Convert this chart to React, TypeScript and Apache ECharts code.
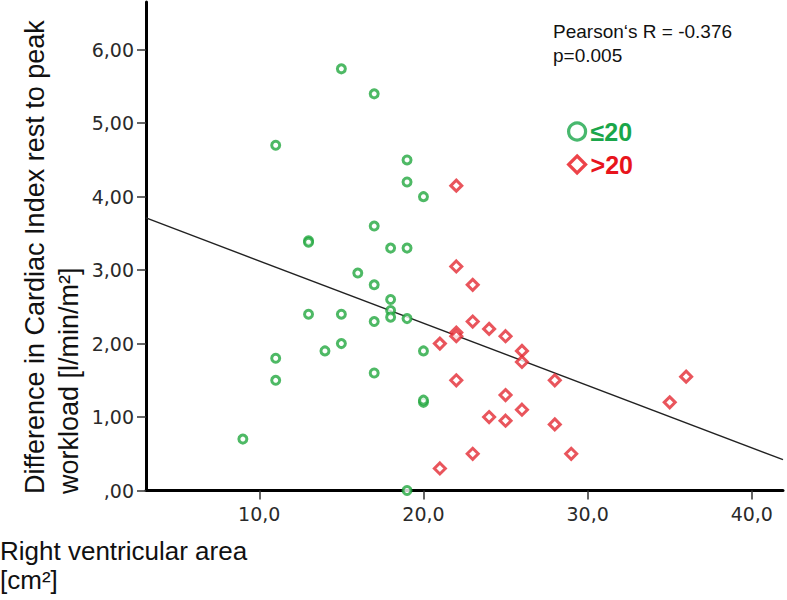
import React, { useEffect, useRef } from "react";
import * as echarts from "echarts";

// Group ≤20 (green circles)
const lowX = [15, 17, 11, 19, 19, 20, 17, 13, 13, 18, 19, 16, 17, 18, 18, 18, 19, 13, 15, 17, 15, 14, 20, 11, 17, 11, 9, 20, 20, 19];
const lowY = [5.74, 5.4, 4.7, 4.5, 4.2, 4.0, 3.6, 3.4, 3.38, 3.3, 3.3, 2.96, 2.8, 2.6, 2.45, 2.36, 2.34, 2.4, 2.4, 2.3, 2.0, 1.9, 1.9, 1.8, 1.6, 1.5, 0.7, 1.2, 1.23, 0.0];
// Group >20 (red diamonds)
const highX = [22, 22, 23, 23, 24, 25, 22, 22, 21, 26, 26, 22, 28, 25, 26, 24, 25, 28, 23, 29, 21, 36, 35];
const highY = [4.15, 3.05, 2.8, 2.3, 2.2, 2.1, 2.15, 2.1, 2.0, 1.9, 1.75, 1.5, 1.5, 1.3, 1.1, 1.0, 0.95, 0.9, 0.5, 0.5, 0.3, 1.55, 1.2];
// Fitted regression line endpoints (x, y)
const fitX = [3.1, 41.9];
const fitY = [3.71, 0.42];

const xTicks = [10, 20, 30, 40];
const yTicks = [0, 1, 2, 3, 4, 5, 6];
const groupNames = ["≤20", ">20"];
const statLines = ["Pearson‘s R = -0.376", "p=0.005"];
const yTitleLines = ["Difference in Cardiac Index rest to peak", "workload [l/min/m²]"];
const xTitleLines = ["Right ventricular area", "[cm²]"];

const GREEN = "#22a83f";
const RED = "#e32a33";
const LEGEND_GREEN = "#1aa64a";
const LEGEND_RED = "#e8141c";

const zip = (a: number[], b: number[]) => a.map((v, i) => [v, b[i]]);

export default function App() {
  const ref = useRef<HTMLDivElement>(null);
  useEffect(() => {
    const chart = echarts.init(ref.current!, null, { renderer: "svg" });
    const axisFont = "DejaVu Sans";
    const titleFont = "Liberation Sans";
    chart.setOption({
      animation: false,
      backgroundColor: "#ffffff",
      grid: { left: 146, right: 4, top: 2, bottom: 109.5, containLabel: false },
      xAxis: {
        type: "value",
        min: 3.1,
        max: 41.9,
        splitLine: { show: false },
        axisLine: { show: true, onZero: false, lineStyle: { color: "#000", width: 3 } },
        axisTick: { show: true, length: 9, customValues: xTicks, lineStyle: { color: "#333", width: 1.5 } },
        axisLabel: {
          customValues: xTicks,
          margin: 14,
          fontFamily: axisFont,
          fontSize: 19,
          color: "#2a2a2a",
          formatter: (v: number) => v.toFixed(1).replace(".", ","),
        },
      },
      yAxis: {
        type: "value",
        min: 0,
        max: 6.65,
        splitLine: { show: false },
        axisLine: { show: true, onZero: false, lineStyle: { color: "#000", width: 3 } },
        axisTick: { show: true, length: 9, customValues: yTicks, lineStyle: { color: "#333", width: 1.5 } },
        axisLabel: {
          customValues: yTicks,
          margin: 12,
          fontFamily: axisFont,
          fontSize: 19,
          color: "#2a2a2a",
          formatter: (v: number) => (v === 0 ? ",00" : v.toFixed(2).replace(".", ",")),
        },
      },
      legend: {
        orient: "vertical",
        left: 562,
        top: 114,
        itemWidth: 17,
        itemHeight: 17,
        itemGap: 8,
        selectedMode: false,
        itemStyle: { borderWidth: 3.2, color: "#fff" },
        textStyle: { fontFamily: titleFont, fontSize: 25, fontWeight: "bold" },
        data: [
          { name: groupNames[0], icon: "circle", itemStyle: { borderColor: LEGEND_GREEN, color: "#fff" }, textStyle: { color: LEGEND_GREEN } },
          { name: groupNames[1], icon: "diamond", itemStyle: { borderColor: LEGEND_RED, color: "#fff" }, textStyle: { color: LEGEND_RED } },
        ],
      },
      series: [
        {
          type: "line",
          data: zip(fitX, fitY),
          symbol: "none",
          silent: true,
          lineStyle: { color: "#222", width: 1.4 },
          z: 1,
        },
        {
          name: groupNames[0],
          type: "scatter",
          data: zip(lowX, lowY),
          symbol: "circle",
          symbolSize: 8,
          clip: false,
          itemStyle: { color: "#fff", borderColor: GREEN, borderWidth: 3 },
          z: 3,
        },
        {
          name: groupNames[1],
          type: "scatter",
          data: zip(highX, highY),
          symbol: "diamond",
          symbolSize: 11,
          clip: false,
          itemStyle: { color: "#fff", borderColor: RED, borderWidth: 3 },
          z: 3,
        },
      ],
      graphic: [
        {
          type: "text",
          left: 553,
          top: 22,
          style: { text: statLines[0], fontFamily: titleFont, fontSize: 19, fill: "#111" },
        },
        {
          type: "text",
          left: 553,
          top: 46,
          style: { text: statLines[1], fontFamily: titleFont, fontSize: 19, fill: "#111" },
        },
        {
          type: "text",
          x: 35,
          y: 494,
          rotation: Math.PI / 2,
          style: {
            text: yTitleLines[0],
            fontFamily: titleFont,
            fontSize: 27,
            fill: "#111",
            align: "left",
            verticalAlign: "middle",
          },
        },
        {
          type: "text",
          x: 69,
          y: 494,
          rotation: Math.PI / 2,
          style: {
            text: yTitleLines[1],
            fontFamily: titleFont,
            fontSize: 27,
            fill: "#111",
            align: "left",
            verticalAlign: "middle",
          },
        },
        {
          type: "text",
          x: 0,
          y: 551,
          style: {
            text: xTitleLines[0],
            fontFamily: titleFont,
            fontSize: 26,
            fill: "#111",
            align: "left",
            verticalAlign: "middle",
          },
        },
        {
          type: "text",
          x: 0,
          y: 580,
          style: {
            text: xTitleLines[1],
            fontFamily: titleFont,
            fontSize: 26,
            fill: "#111",
            align: "left",
            verticalAlign: "middle",
          },
        },
      ],
    });
    return () => chart.dispose();
  }, []);
  return (
    <div
      ref={ref}
      style={{ position: "fixed", left: 0, top: 0, width: 787, height: 600, background: "#fff" }}
    />
  );
}
